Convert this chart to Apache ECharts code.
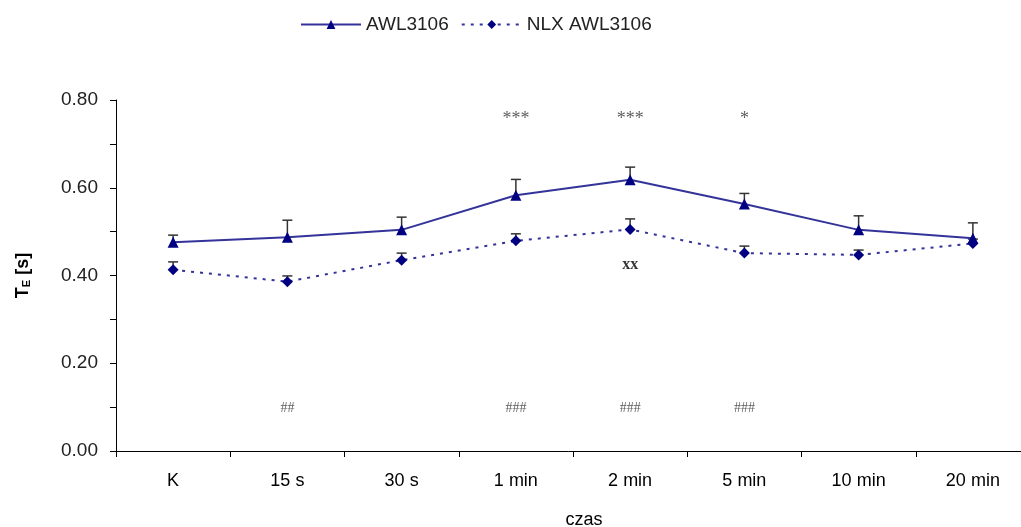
<!DOCTYPE html>
<html>
<head>
<meta charset="utf-8">
<script src="https://cdn.jsdelivr.net/npm/echarts@6/dist/echarts.min.js"></script>
<style>
  html, body { margin: 0; padding: 0; background: #fff; }
  #chart { width: 1021px; height: 527px; }
</style>
</head>
<body>
<div id="chart"></div>
<script>
// Time points after administration
const categories = ['K', '15 s', '30 s', '1 min', '2 min', '5 min', '10 min', '20 min'];

// Mean expiratory time TE [s] and SEM for each group
const awlMean = [0.476, 0.487, 0.504, 0.583, 0.618, 0.563, 0.504, 0.485];
const awlErr  = [0.016, 0.039, 0.029, 0.036, 0.029, 0.024, 0.032, 0.035];
const nlxMean = [0.413, 0.386, 0.435, 0.479, 0.505, 0.451, 0.447, 0.473];
const nlxErr  = [0.018, 0.013, 0.016, 0.016, 0.024, 0.016, 0.011, 0.010];

// Significance marks per time point
const starMarks = ['', '', '', '***', '***', '*', '', ''];
const xxMarks   = ['', '', '', '', 'xx', '', '', ''];
const hashMarks = ['', '##', '', '###', '###', '###', '', ''];

const yTicks = [0, 0.2, 0.4, 0.6, 0.8];

const lineBlue = '#333399';
const markerBlue = '#000080';

function errorBars(means, errs) {
  return means.map((m, i) => [i, m, m + errs[i]]);
}

function errorRender(params, api) {
  const base = api.coord([api.value(0), api.value(1)]);
  const top = api.coord([api.value(0), api.value(2)]);
  const half = 5;
  const style = { stroke: '#333', lineWidth: 1.5 };
  return {
    type: 'group',
    children: [
      { type: 'line', shape: { x1: base[0], y1: base[1], x2: top[0], y2: top[1] }, style: style },
      { type: 'line', shape: { x1: top[0] - half, y1: top[1], x2: top[0] + half, y2: top[1] }, style: style }
    ]
  };
}

function markSeries(marks, level, textStyle) {
  return {
    type: 'scatter',
    symbolSize: 0,
    silent: true,
    z: 5,
    data: marks.map((t, i) => ({ value: [i, level], name: t })).filter(d => d.name !== ''),
    label: Object.assign({
      show: true,
      position: 'inside',
      formatter: p => p.name
    }, textStyle)
  };
}

const chart = echarts.init(document.getElementById('chart'), null, { renderer: 'canvas' });

chart.setOption({
  animation: false,
  backgroundColor: '#fff',
  textStyle: { fontFamily: 'Liberation Sans, Arial, sans-serif' },
  legend: {
    left: 295,
    top: 10,
    itemWidth: 60,
    itemHeight: 11,
    itemGap: 12,
    textStyle: { fontSize: 19, color: '#222', fontFamily: 'Liberation Sans, Arial, sans-serif' },
    data: ['AWL3106', 'NLX AWL3106']
  },
  grid: { left: 116, right: -9, top: 100, bottom: 76, containLabel: false, outerBoundsMode: 'none' },
  xAxis: {
    type: 'category',
    data: categories,
    boundaryGap: true,
    axisLine: { lineStyle: { color: '#000', width: 1 } },
    axisTick: { show: true, length: 6, inside: false, lineStyle: { color: '#000' } },
    axisLabel: { fontSize: 18, color: '#000', margin: 21 },
    name: 'czas',
    nameLocation: 'middle',
    nameGap: 60,
    nameTextStyle: { fontSize: 18, color: '#000', padding: [0, 0, 0, 22] }
  },
  yAxis: {
    type: 'value',
    min: 0,
    max: 0.8,
    interval: 0.1,
    axisLine: { show: true, lineStyle: { color: '#000', width: 1 } },
    axisTick: { show: true, length: 6, inside: false, lineStyle: { color: '#000' } },
    splitLine: { show: false },
    axisLabel: {
      fontSize: 19,
      color: '#222',
      margin: 18,
      formatter: v => yTicks.some(t => Math.abs(t - v) < 1e-6) ? v.toFixed(2) : ''
    },
    name: '{b|T}{s|E}{b| [s]}',
    nameLocation: 'middle',
    nameRotate: 90,
    nameGap: 84,
    nameTextStyle: {
      rich: {
        b: { fontSize: 18, fontWeight: 'bold', color: '#000', fontFamily: 'Liberation Sans, Arial, sans-serif' },
        s: { fontSize: 11, fontWeight: 'bold', color: '#000', fontFamily: 'Liberation Sans, Arial, sans-serif', verticalAlign: 'bottom', padding: [6, 0, 0, 0] }
      }
    }
  },
  series: [
    {
      type: 'custom',
      name: 'awlErr',
      renderItem: errorRender,
      data: errorBars(awlMean, awlErr),
      encode: { x: 0, y: [1, 2] },
      z: 1,
      silent: true
    },
    {
      type: 'custom',
      name: 'nlxErr',
      renderItem: errorRender,
      data: errorBars(nlxMean, nlxErr),
      encode: { x: 0, y: [1, 2] },
      z: 1,
      silent: true
    },
    {
      name: 'AWL3106',
      type: 'line',
      data: awlMean,
      symbol: 'triangle',
      symbolSize: 11,
      z: 3,
      lineStyle: { color: lineBlue, width: 2 },
      itemStyle: { color: markerBlue }
    },
    {
      name: 'NLX AWL3106',
      type: 'line',
      data: nlxMean,
      symbol: 'diamond',
      symbolSize: 11,
      z: 3,
      lineStyle: { color: lineBlue, width: 2, type: [3, 6] },
      itemStyle: { color: markerBlue }
    },
    markSeries(starMarks, 0.755, { fontSize: 18, color: '#333', fontFamily: 'Liberation Serif, Times New Roman, serif' }),
    markSeries(xxMarks, 0.424, { fontSize: 16, fontWeight: 'bold', color: '#000', fontFamily: 'Liberation Serif, Times New Roman, serif' }),
    markSeries(hashMarks, 0.097, { fontSize: 14, color: '#333', fontFamily: 'Liberation Serif, Times New Roman, serif' })
  ]
});
</script>
</body>
</html>
